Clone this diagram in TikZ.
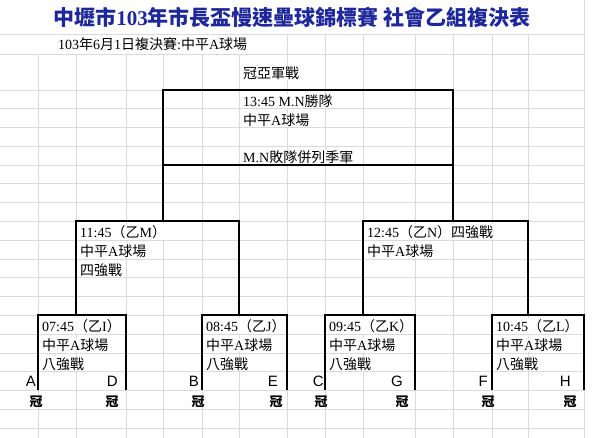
\documentclass[tikz,border=0pt]{standalone}
\usepackage{fontspec}
\setmainfont{Liberation Serif}
\newfontfamily\cjk{Noto Sans CJK TC}
\newfontfamily\arial{Liberation Sans}
\definecolor{titleblue}{RGB}{30,40,155}
\definecolor{gridgray}{RGB}{218,218,218}
\newcommand{\zh}[1]{{\cjk #1}}

\begin{document}
\begin{tikzpicture}[x = 1pt, y = -1pt,
	grid/.style = {color = gridgray, line width = 0.8pt},
	frame/.style = {line width = 2pt},
	cell/.style = {anchor = west, inner xsep = 0pt, inner ysep = 1pt, fill = white,
		font = \fontsize{14}{16}\selectfont},
	team/.style = {anchor = east, inner sep = 0pt, font = \arial\fontsize{15}{17}\selectfont},
	champ/.style = {inner sep = 0pt, font = \cjk\bfseries\fontsize{13}{15}\selectfont}]

	\useasboundingbox (0,0) rectangle (600,438);
	\fill[white] (0,0) rectangle (600,438);

	\foreach \y in {34,54} \draw[grid] (0,\y) -- (584,\y);
	\foreach \k in {0,...,18} \draw[grid] (0,{90+18.78*\k}) -- (584,{90+18.78*\k});
	\foreach \x in {38,76,126,163,202,239} \draw[grid] (\x,54) -- (\x,438);
	\foreach \x in {287,325,363,415,453,492,528} \draw[grid] (\x,34) -- (\x,438);
	\draw[grid] (584,0) -- (584,438);

	\node[font = \cjk\bfseries\fontsize{21}{24}\selectfont, text = titleblue] (title) at (292,17)
		{中壢市{\rmfamily 103}年市長盃慢速壘球錦標賽 社會乙組複決表};
	\node[cell, fill = none] (date) at (58,44)
		{103\zh{年}6\zh{月}1\zh{日複決賽}:\zh{中平}A\zh{球場}};

	\node[cell] (final) at (243,73) {\zh{冠亞軍戰}};
	\node[cell] (F1) at (243,101) {13:45 M.N\zh{勝隊}};
	\node[cell] (F2) at (243,120) {\zh{中平}A\zh{球場}};
	\node[cell] (F3) at (243,157) {M.N\zh{敗隊併列季軍}};

	\node[cell] (M1) at (80,232) {11:45\zh{（乙}M\zh{）}};
	\node[cell] (M2) at (80,251) {\zh{中平}A\zh{球場}};
	\node[cell] (M3) at (80,270) {\zh{四強戰}};
	\node[cell] (N1) at (367,232) {12:45\zh{（乙}N\zh{）四強戰}};
	\node[cell] (N2) at (367,251) {\zh{中平}A\zh{球場}};

	\node[cell] (I1) at (42,326) {07:45\zh{（乙}I\zh{）}};
	\node[cell] (I2) at (42,345) {\zh{中平}A\zh{球場}};
	\node[cell] (I3) at (42,364) {\zh{八強戰}};
	\node[cell] (J1) at (206,326) {08:45\zh{（乙}J\zh{）}};
	\node[cell] (J2) at (206,345) {\zh{中平}A\zh{球場}};
	\node[cell] (J3) at (206,364) {\zh{八強戰}};
	\node[cell] (K1) at (329,326) {09:45\zh{（乙}K\zh{）}};
	\node[cell] (K2) at (329,345) {\zh{中平}A\zh{球場}};
	\node[cell] (K3) at (329,364) {\zh{八強戰}};
	\node[cell] (L1) at (496,326) {10:45\zh{（乙}L\zh{）}};
	\node[cell] (L2) at (496,345) {\zh{中平}A\zh{球場}};
	\node[cell] (L3) at (496,364) {\zh{八強戰}};

	\node[team] (A) at (36,381) {A};
	\node[team] (D) at (118,381) {D};
	\node[team] (B) at (199,381) {B};
	\node[team] (E) at (278,381) {E};
	\node[team] (C) at (324,381) {C};
	\node[team] (G) at (403,381) {G};
	\node[team] (F) at (488,381) {F};
	\node[team] (H) at (571,381) {H};

	\node[champ] (wA) at (36,402) {冠};
	\node[champ] (wD) at (112,402) {冠};
	\node[champ] (wB) at (198,402) {冠};
	\node[champ] (wE) at (276,402) {冠};
	\node[champ] (wC) at (321,402) {冠};
	\node[champ] (wG) at (402,402) {冠};
	\node[champ] (wF) at (488,402) {冠};
	\node[champ] (wH) at (570,402) {冠};

	\draw[frame] (163,221.5) |- (453,90) -- (453,221.5);
	\draw[frame] (163,165.1) -- (453,165.1);
	\draw[frame] (76,315.4) |- (239,221.5) -- (239,315.4);
	\draw[frame] (363,315.4) |- (528,221.5) -- (528,315.4);
	\draw[frame] (38,390.5) |- (126,315.4) -- (126,390.5);
	\draw[frame] (202,390.5) |- (287,315.4) -- (287,390.5);
	\draw[frame] (325,390.5) |- (415,315.4) -- (415,390.5);
	\draw[frame] (492,390.5) |- (584,315.4) -- (584,390.5);
\end{tikzpicture}
\end{document}
